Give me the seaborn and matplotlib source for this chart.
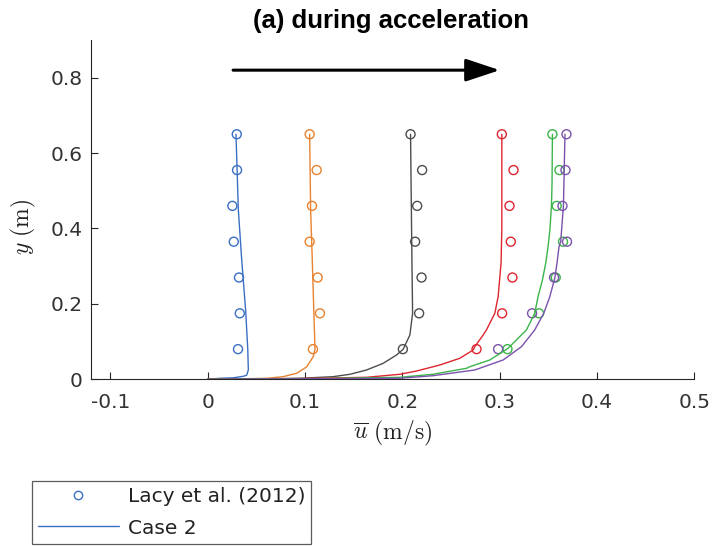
import numpy as np
import pandas as pd
import matplotlib
matplotlib.use("Agg")
import matplotlib.pyplot as plt
from matplotlib.lines import Line2D
import seaborn as sns

# ---------------- data ----------------
profiles = ["p1", "p2", "p3", "p4", "p5", "p6"]
colors = ["#3a6fc4", "#e8822e", "#4d4d4d", "#dd2530", "#3bb44a", "#7b52ab"]

# measured profiles (Lacy et al. 2012)
obs_y = [0.65, 0.555, 0.46, 0.365, 0.27, 0.175, 0.08]
obs_u1 = [0.0298, 0.0301, 0.0253, 0.0267, 0.0321, 0.0329, 0.0311]
obs_u2 = [0.1047, 0.1119, 0.1071, 0.1047, 0.1129, 0.1153, 0.1081]
obs_u3 = [0.2084, 0.2203, 0.2152, 0.2131, 0.2197, 0.2172, 0.2005]
obs_u4 = [0.3022, 0.3142, 0.3101, 0.3114, 0.3131, 0.3025, 0.2762]
obs_u5 = [0.3542, 0.3614, 0.3586, 0.3651, 0.3576, 0.3405, 0.3080]
obs_u6 = [0.3686, 0.3676, 0.3645, 0.3692, 0.3559, 0.3333, 0.2984]

# model profiles (Case 2)
mod_y1 = [0.65, 0.45, 0.316, 0.18, 0.08, 0.025, 0.011, 0.008, 0.004, 0.0027, 0.0]
mod_u1 = [0.029, 0.0314, 0.0349, 0.039, 0.0411, 0.0417, 0.040, 0.0366, 0.0263, 0.0126, 0.0]
mod_y2 = [0.65, 0.45, 0.316, 0.18, 0.08, 0.06, 0.033, 0.016, 0.0069, 0.0027, 0.0008, 0.0]
mod_u2 = [0.1047, 0.1057, 0.1074, 0.109, 0.1102, 0.1084, 0.1016, 0.0914, 0.0773, 0.0606, 0.026, 0.0]
mod_y3 = [0.65, 0.316, 0.175, 0.1175, 0.0796, 0.0645, 0.0424, 0.0247, 0.0133, 0.0069, 0.0027, 0.0008, 0.0]
mod_u3 = [0.2084, 0.2098, 0.2105, 0.2077, 0.2008, 0.1940, 0.1803, 0.1632, 0.1461, 0.1286, 0.0948, 0.043, 0.0]
mod_y4 = [0.65, 0.396, 0.308, 0.219, 0.175, 0.131, 0.1175, 0.0865, 0.0777, 0.0557, 0.0379, 0.022, 0.0133, 0.0053, 0.002, 0.0]
mod_u4 = [0.3022, 0.3022, 0.3014, 0.2984, 0.2950, 0.2864, 0.2830, 0.2744, 0.2727, 0.2590, 0.2385, 0.2146, 0.1974, 0.1632, 0.095, 0.0]
mod_y5 = [0.65, 0.52, 0.46, 0.396, 0.352, 0.308, 0.263, 0.219, 0.175, 0.131, 0.0822, 0.0512, 0.0334, 0.0292, 0.0133, 0.0053, 0.0013, 0.0]
mod_u5 = [0.3542, 0.3538, 0.3532, 0.3516, 0.3497, 0.3473, 0.3439, 0.3394, 0.3360, 0.3275, 0.3086, 0.2898, 0.2693, 0.2659, 0.2313, 0.1974, 0.0948, 0.0]
mod_y6 = [0.65, 0.46, 0.365, 0.352, 0.308, 0.268, 0.219, 0.175, 0.131, 0.0865, 0.0512, 0.0247, 0.0095, 0.0027, 0.0]
mod_u6 = [0.3671, 0.3655, 0.3627, 0.3610, 0.3589, 0.3566, 0.3515, 0.3453, 0.3360, 0.3224, 0.3035, 0.2744, 0.2313, 0.1974, 0.0]

xticks = [-0.1, 0, 0.1, 0.2, 0.3, 0.4, 0.5]
xticklabels = ["-0.1", "0", "0.1", "0.2", "0.3", "0.4", "0.5"]
yticks = [0, 0.2, 0.4, 0.6, 0.8]
yticklabels = ["0", "0.2", "0.4", "0.6", "0.8"]
title = "(a) during acceleration"
legend_labels = ["Lacy et al. (2012)", "Case 2"]

# ---------------- frames ----------------
obs_us = [obs_u1, obs_u2, obs_u3, obs_u4, obs_u5, obs_u6]
mod_ys = [mod_y1, mod_y2, mod_y3, mod_y4, mod_y5, mod_y6]
mod_us = [mod_u1, mod_u2, mod_u3, mod_u4, mod_u5, mod_u6]

obs_df = pd.concat([pd.DataFrame({"u": u, "y": obs_y, "profile": p})
                    for p, u in zip(profiles, obs_us)], ignore_index=True)
mod_df = pd.concat([pd.DataFrame({"u": u, "y": y, "profile": p})
                    for p, u, y in zip(profiles, mod_us, mod_ys)], ignore_index=True)
palette = dict(zip(profiles, colors))

# ---------------- plot ----------------
sns.set_theme(style="white")
plt.rcParams["font.family"] = ["DejaVu Sans"]
plt.rcParams["mathtext.fontset"] = "cm"
plt.rcParams["axes.unicode_minus"] = False

fig = plt.figure(figsize=(7.16, 5.46), dpi=100)
ax = fig.add_axes([91 / 716, 1 - 379.3 / 546, (694.3 - 91) / 716, (379.3 - 40) / 546])

sns.lineplot(data=mod_df, x="u", y="y", hue="profile", palette=palette,
             sort=False, estimator=None, legend=False, lw=1.0, ax=ax)
sns.scatterplot(data=obs_df, x="u", y="y", hue="profile", palette=palette,
                marker="o", s=42, linewidth=1.0, legend=False, ax=ax)
coll = ax.collections[-1]
fc = coll.get_facecolors()
coll.set_edgecolors(fc)
coll.set_facecolors("none")

ax.set_xlim(-0.12, 0.5)
ax.set_ylim(0, 0.9)
ax.set_xticks(xticks)
ax.set_xticklabels(xticklabels)
ax.set_yticks(yticks)
ax.set_yticklabels(yticklabels)

axcol = "#262626"
for side in ["top", "right"]:
    ax.spines[side].set_visible(False)
for side in ["left", "bottom"]:
    ax.spines[side].set_color(axcol)
    ax.spines[side].set_linewidth(0.8)
ax.tick_params(axis="both", direction="in", length=5, width=0.8, color=axcol,
               labelsize=14.5, labelcolor="#333333")
ax.tick_params(axis="x", pad=10)
ax.tick_params(axis="y", pad=6)
ax.tick_params(left=True, bottom=True)

ax.set_xlabel(r"$\overline{u}\ (\mathrm{m/s})$", fontsize=17, color="#222222", va="top")
ax.xaxis.set_label_coords(0.5, -0.118)
ax.set_ylabel(r"$y\ (\mathrm{m})$", fontsize=17, color="#222222")
ax.yaxis.set_label_coords(-0.088, 0.45)

# direction arrow
ax.annotate("", xy=(0.300, 0.82), xytext=(0.026, 0.82),
            arrowprops=dict(arrowstyle="-|>,head_length=0.42,head_width=0.14",
                            lw=2.2, color="black", mutation_scale=50,
                            shrinkA=0, shrinkB=0))

fig.text(391 / 716, 1 - 21 / 546, title, ha="center", va="center",
         fontsize=18.5, fontweight="bold", family="Liberation Sans", color="black")

handles = [Line2D([], [], marker="o", ls="none", mfc="none", mec=colors[0], ms=6, mew=1.0),
           Line2D([], [], color=colors[0], lw=1.0)]
leg = fig.legend(handles, legend_labels, loc="upper left",
                 bbox_to_anchor=(32 / 716, 1 - 481 / 546), frameon=True,
                 fontsize=14.5, handlelength=4.0, handletextpad=0.45,
                 labelspacing=0.62, borderpad=0.3, borderaxespad=0, fancybox=False)
leg.get_frame().set_edgecolor("#333333")
leg.get_frame().set_linewidth(0.9)
for t in leg.get_texts():
    t.set_color("#222222")

fig.savefig("out.png", dpi=100)
